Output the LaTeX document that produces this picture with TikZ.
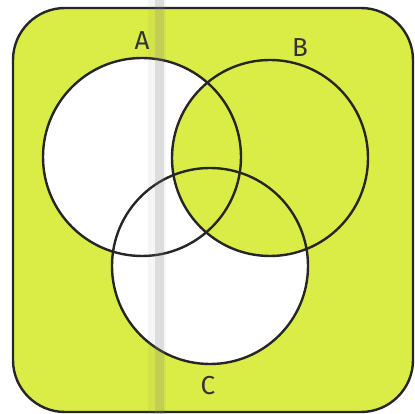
\documentclass[tikz,border=0pt]{standalone}
\usepackage{fontspec}
\setsansfont{Fira Sans}
\definecolor{venngreen}{RGB}{218,236,70}

\begin{document}
\begin{tikzpicture}[x=1pt,y=1pt, line width=2.4pt]
    \useasboundingbox (0,0) rectangle (415,414);

    % Universal set
    \filldraw[fill=venngreen, draw=black!85, rounded corners=52pt]
    (13,2) rectangle (413,406);

    % (A u C) \ B is left white
    \fill[white] (142,257) circle (99);
    \fill[white] (210,148) circle (98);
    \fill[venngreen] (270,256) circle (98);

    % Circles
    \draw[black!85] (142,257) circle (99);
    \draw[black!85] (270,256) circle (98);
    \draw[black!85] (210,148) circle (98);

    % Labels
    \node[font=\sffamily\fontsize{26}{28}\selectfont, text=black!80] (labA) at (142,373) {A};
    \node[font=\sffamily\fontsize{26}{28}\selectfont, text=black!80] (labB) at (300,366) {B};
    \node[font=\sffamily\fontsize{26}{28}\selectfont, text=black!80] (labC) at (208,28) {C};

    % Fold of the scanned page
    \fill[gray, opacity=0.08] (148,0) rectangle (166,414);
    \fill[gray, opacity=0.20] (155,0) rectangle (164,414);
\end{tikzpicture}
\end{document}
